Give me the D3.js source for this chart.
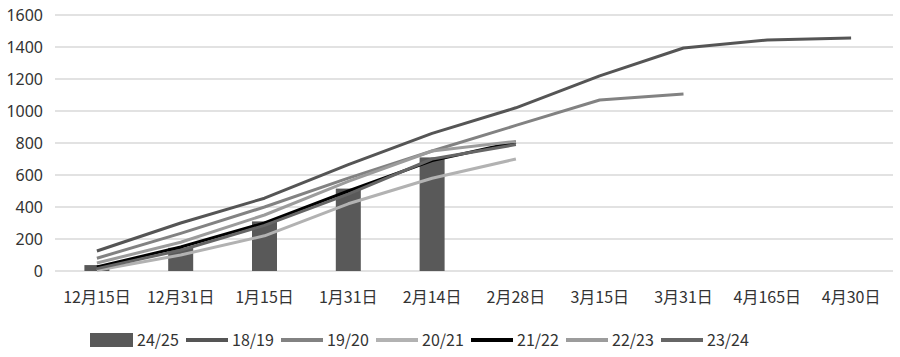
<!DOCTYPE html>
<html>
<head>
<meta charset="utf-8">
<script src="https://cdn.jsdelivr.net/npm/d3@7"></script>
<style>
  body { margin: 0; background: #fff; }
  text { font-family: "Noto Sans CJK SC", "Noto Sans", sans-serif; fill: #333333; }
</style>
</head>
<body>
<svg id="chart" width="900" height="357"></svg>
<script>
// categories (x axis)
var categories = ['12月15日', '12月31日', '1月15日', '1月31日', '2月14日', '2月28日', '3月15日', '3月31日', '4月165日', '4月30日'];
var yTicks = [0, 200, 400, 600, 800, 1000, 1200, 1400, 1600];

// bar series
var s2425 = [37, 145, 310, 515, 710];

// line series
var s1819 = [125, 300, 455, 665, 860, 1020, 1220, 1394, 1444, 1456];
var s1920 = [80, 235, 400, 580, 750, 910, 1069, 1106];
var s2021 = [5, 100, 220, 420, 580, 700];
var s2122 = [25, 150, 300, 500, 690, 806];
var s2223 = [50, 180, 350, 560, 750, 810];
var s2324 = [15, 130, 285, 480, 700, 790];

var lineSeries = [
  { name: '18/19', values: s1819, color: '#555555' },
  { name: '19/20', values: s1920, color: '#828282' },
  { name: '20/21', values: s2021, color: '#b2b2b2' },
  { name: '21/22', values: s2122, color: '#000000' },
  { name: '22/23', values: s2223, color: '#9c9c9c' },
  { name: '23/24', values: s2324, color: '#666666' }
];

var svg = d3.select('#chart');

var x = d3.scaleBand().domain(categories).range([55, 893]).padding(0);
var y = d3.scaleLinear().domain([0, 1600]).range([271, 15]);

// grid
svg.append('g').selectAll('line')
  .data(yTicks)
  .enter().append('line')
  .attr('x1', 55).attr('x2', 893)
  .attr('y1', function(d) { return y(d); })
  .attr('y2', function(d) { return y(d); })
  .attr('stroke', '#d9d9d9')
  .attr('stroke-width', 1.5);

// y labels
svg.append('g').selectAll('text')
  .data(yTicks)
  .enter().append('text')
  .attr('x', 43)
  .attr('y', function(d) { return y(d); })
  .attr('dy', '0.35em')
  .attr('text-anchor', 'end')
  .style('font-family', '"Noto Sans", sans-serif')
  .style('font-size', '16px')
  .text(function(d) { return d; });

// x labels
svg.append('g').selectAll('text')
  .data(categories)
  .enter().append('text')
  .attr('x', function(d) { return x(d) + x.bandwidth() / 2; })
  .attr('y', 297)
  .attr('dy', '0.35em')
  .attr('text-anchor', 'middle')
  .style('font-size', '16px')
  .text(function(d) { return d; });

// bars
var barW = 25;
svg.append('g').selectAll('rect')
  .data(s2425)
  .enter().append('rect')
  .attr('x', function(d, i) { return x(categories[i]) + x.bandwidth() / 2 - barW / 2; })
  .attr('y', function(d) { return y(d); })
  .attr('width', barW)
  .attr('height', function(d) { return y(0) - y(d); })
  .attr('fill', '#595959');

// lines
var line = d3.line()
  .x(function(d, i) { return x(categories[i]) + x.bandwidth() / 2; })
  .y(function(d) { return y(d); });

svg.append('g').selectAll('path')
  .data(lineSeries)
  .enter().append('path')
  .attr('d', function(d) { return line(d.values); })
  .attr('fill', 'none')
  .attr('stroke', function(d) { return d.color; })
  .attr('stroke-width', 3)
  .attr('stroke-linejoin', 'round');

// legend
var legend = svg.append('g').attr('transform', 'translate(90,340)');
legend.append('rect')
  .attr('x', 0).attr('y', -7).attr('width', 43).attr('height', 14)
  .attr('fill', '#595959');
legend.append('text')
  .attr('x', 47).attr('y', 0).attr('dy', '0.35em')
  .style('font-size', '16px')
  .text('24/25');

var items = legend.selectAll('g.item')
  .data(lineSeries)
  .enter().append('g')
  .attr('class', 'item')
  .attr('transform', function(d, i) { return 'translate(' + (96 + i * 95) + ',0)'; });
items.append('line')
  .attr('x1', 0).attr('x2', 42)
  .attr('y1', 0).attr('y2', 0)
  .attr('stroke', function(d) { return d.color; })
  .attr('stroke-width', 4);
items.append('text')
  .attr('x', 46).attr('y', 0).attr('dy', '0.35em')
  .style('font-size', '16px')
  .text(function(d) { return d.name; });
</script>
</body>
</html>
